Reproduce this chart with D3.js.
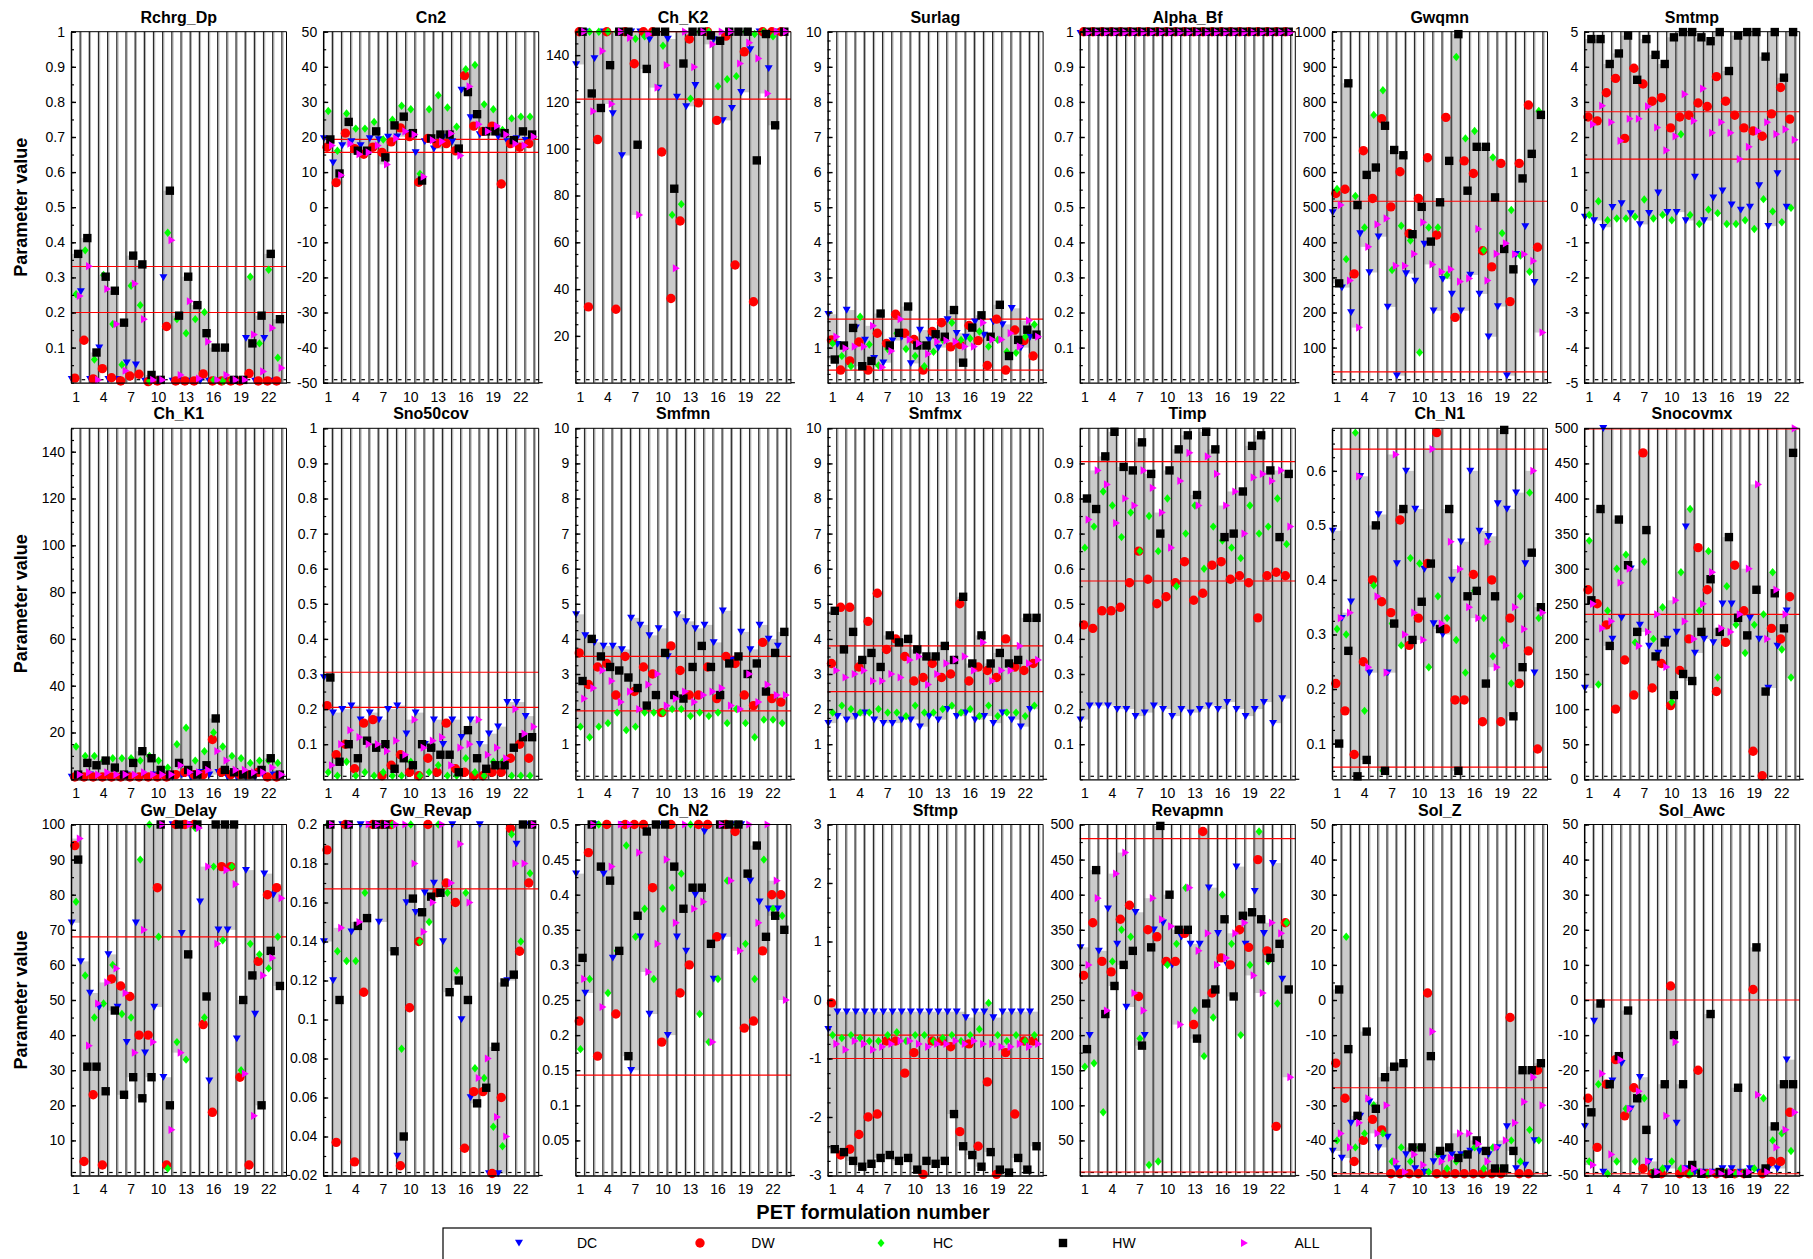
<!DOCTYPE html>
<html><head><meta charset="utf-8">
<script src="https://cdn.jsdelivr.net/npm/d3@7"></script>
<style>
body{margin:0;background:#fff}
text{font-family:"Liberation Sans",Arial,Helvetica,sans-serif;fill:#000}
</style>
</head><body>
<svg id="chart" width="1813" height="1259"></svg>
<script>
// ---------------- DATA ----------------
const series = ["DC","DW","HC","HW","ALL"];
const formulations = d3.range(1, 24);
const xTickLabels = [1,4,7,10,13,16,19,22];
const panelNames = ["Rchrg_Dp","Cn2","Ch_K2","Surlag","Alpha_Bf","Gwqmn","Smtmp",
  "Ch_K1","Sno50cov","Smfmn","Smfmx","Timp","Ch_N1","Snocovmx",
  "Gw_Delay","Gw_Revap","Ch_N2","Sftmp","Revapmn","Sol_Z","Sol_Awc"];

const Rchrg_Dp = {
  DC:[0.01,0.26,0.01,0.10,0.01,0.01,0.057,0.051,0.005,0.005,0.30,0.005,0.005,0.005,0.005,0.005,0.005,0.005,0.005,0.127,0.005,0.127,0.005],
  DW:[0.013,0.121,0.011,0.04,0.014,0.005,0.019,0.024,0.003,0.005,0.16,0.005,0.005,0.005,0.025,0.005,0.005,0.005,0.005,0.026,0.005,0.005,0.005],
  HC:[0.252,0.377,0.066,0.307,0.167,0.051,0.276,0.221,0.005,0.008,0.427,0.181,0.141,0.181,0.201,0.008,0.005,0.008,0.008,0.302,0.112,0.322,0.071],
  HW:[0.367,0.412,0.086,0.302,0.262,0.171,0.362,0.337,0.022,0.008,0.547,0.191,0.302,0.221,0.141,0.1,0.1,0.008,0.008,0.112,0.191,0.367,0.181],
  ALL:[0.247,0.332,0.008,0.267,0.167,0.034,0.282,0.181,0.008,0.008,0.406,0.022,0.232,0.012,0.117,0.008,0.022,0.008,0.008,0.137,0.032,0.156,0.042]};
const Cn2 = {
  DC:[19.6,12.7,17.6,18.7,17.6,19.6,19.3,20,20.1,21,15.6,18.7,16.7,20,18.7,33.4,25.6,20.7,22,20.1,18.7,19.6,19.1],
  DW:[17.1,7.0,21.1,16.7,15.1,17.1,15.6,18.6,22.6,20.1,7.1,19.6,18.1,18.1,16.1,37.5,23.1,21.6,23.1,6.6,18.1,17.1,18.1],
  HC:[27.4,16.1,26.7,22.4,22.4,24.3,19.3,24.9,28.9,27.9,9.5,27.9,31.9,28.4,22.9,39.3,40.5,29.3,27.9,22,25.3,25.8,25.8],
  HW:[19.3,9.6,24.3,16.1,16.1,21.6,14.2,23.3,25.8,21.1,7.6,19.6,20.7,20.7,16.7,32.8,26.5,21.6,21.6,21.1,19.1,21.6,20.7],
  ALL:[17.6,9.1,18.1,15.1,15.6,17.6,12.2,19.6,21.6,20.7,8.7,19.1,18.7,21,14.7,34.4,23.6,21.6,23.1,20.7,18.1,17.6,20.1]};
const Ch_K2 = {
  DC:[136,150,138.6,150,115.1,97.1,150,150,146.7,126,146.9,122.1,118.1,127.1,150,146.7,112.1,117.3,124.1,142.4,150,134.3,150],
  DW:[150,32.4,103.9,150,31.4,150,136.3,150,150,98.6,36,69.1,146.9,119.6,150,112.1,148.1,50.3,141.4,34.6,150,150,150],
  HC:[150,150,150,150,150,150,147,148,150,144,71.7,76.3,121.4,150,150,126.7,129.7,131,150,149,150,148,150],
  HW:[150,123.6,117.4,135.7,150,150,101.7,134.1,150,150,82.9,136.4,150,150,148.4,146.1,150,150,150,95,149,110,150],
  ALL:[150,116,141.7,119.1,150,147.4,71.7,149,126.1,135.7,48.9,150,134.9,150,144.6,150,150,136.4,145.3,138.6,123.6,150,150]};
const Surlag = {
  DC:[1.95,1.1,2.07,1.57,1.22,0.7,0.57,1.2,1.3,0.55,1.5,1.22,1.0,1.8,1.41,1.3,1.74,1.36,1.74,1.66,2.12,1.0,1.3],
  DW:[1.22,0.36,0.62,1.16,0.36,1.41,1.12,1.95,1.41,1.23,0.36,1.46,1.71,1.02,1.09,1.63,1.2,0.49,1.81,0.36,1.5,1.2,0.76],
  HC:[1.12,0.76,0.47,1.88,1.09,0.49,0.96,1.41,0.96,0.76,0.47,0.88,1.22,1.71,1.22,1.26,1.46,1.03,1.22,0.88,0.85,1.31,1.66],
  HW:[0.66,1.06,1.56,0.47,0.62,1.97,1.06,1.42,2.17,1.06,1.06,1.38,1.31,2.07,0.57,1.57,1.92,1.31,2.22,0.76,1.22,1.51,1.37],
  ALL:[1.31,0.98,1.03,1.03,1.62,0.44,0.9,1.81,1.23,1.12,0.82,1.17,1.2,1.17,1.03,1.03,1.71,1.23,1.23,1.41,1.03,1.77,1.31]};
const Alpha_Bf = {
  DC:[0.996,0.996,0.996,0.996,0.996,0.996,0.996,0.996,0.996,0.996,0.996,0.996,0.996,0.996,0.996,0.996,0.996,0.996,0.996,0.996,0.996,0.996,0.996],
  DW:[1,1,1,1,1,1,1,1,1,1,1,1,1,1,1,1,1,1,1,1,1,1,1],
  HC:[0.999,0.999,0.999,0.999,0.999,0.999,0.999,0.999,0.999,0.999,0.999,0.999,0.999,0.999,0.999,0.999,0.999,0.999,0.999,0.999,0.999,0.999,0.999],
  HW:[1,1,1,1,1,1,1,1,1,1,1,1,1,1,1,1,1,1,1,1,1,1,1],
  ALL:[0.998,0.998,0.998,0.998,0.998,0.998,0.998,0.998,0.998,0.998,0.998,0.998,0.998,0.998,0.998,0.998,0.998,0.998,0.998,0.998,0.998,0.998,0.998]};
const Gwqmn = {
  DC:[485,271,200,425,314,416,216,20,311,290,395,205,295,253,205,307,253,131,217,20,366,445,286],
  DW:[539,551,310,661,525,752,501,601,425,525,641,421,756,186,632,596,376,330,625,231,625,791,386],
  HC:[552,352,532,442,763,833,321,447,405,86,442,442,307,928,696,717,377,642,426,492,362,316,774],
  HW:[283,853,506,592,613,732,663,648,423,501,402,514,632,993,547,672,672,528,381,323,582,652,763],
  ALL:[506,291,157,387,451,468,333,333,367,457,337,316,323,288,297,438,291,367,397,366,366,347,143]};
const Smtmp = {
  DC:[-0.28,-0.38,-0.57,0.0,0.11,-0.18,-0.49,-0.17,0.41,-0.14,-0.14,-0.38,0.86,-0.38,0.27,0.47,0.07,-0.08,0.01,0.62,-0.54,0.96,0.01],
  DW:[2.57,2.46,3.26,3.67,1.96,3.96,3.51,3.02,3.12,2.26,2.57,2.62,2.97,2.87,3.72,3.02,2.62,2.26,2.17,2.02,2.66,3.41,2.51],
  HC:[-0.22,0.17,-0.37,-0.32,-0.32,-0.27,0.22,-0.32,-0.22,-0.37,2.08,-0.22,-0.48,-0.07,-0.17,-0.48,-0.48,-0.37,-0.62,0.23,-0.12,-0.43,-0.02],
  HW:[4.79,4.79,4.08,4.38,4.89,3.63,4.79,4.34,4.08,4.84,4.99,4.99,4.84,4.73,4.99,3.88,4.89,4.99,4.99,4.29,4.99,3.69,4.99],
  ALL:[2.36,2.89,2.42,1.89,2.52,2.52,2.87,2.27,1.62,2.02,3.22,2.46,3.38,2.12,2.42,2.12,1.37,1.72,2.17,2.42,2.08,2.22,1.92]};
const Ch_K1 = {
  DC:[1,1,2,1,1,1,2,1,1,2,1,1,2,1,3,2,3,1,1,1,1,1,2],
  DW:[1,1,1,1,1,1,1,1,1,1,1,2,3,2,2,17,3,2,2,2,3,1,1],
  HC:[14,10,10,8,9,9,9,8,10,8,5,15,22,8,12,20,14,10,9,7,8,8,7],
  HW:[2,7,6,8,5,2,7,12,9,4,2,7,4,2,6,26,4,3,2,2,4,9,2],
  ALL:[2,3,2,3,2,2,2,3,2,2,2,6,3,3,4,12,8,4,4,3,3,5,2]};
const Sno50cov = {
  DC:[0.29,0.19,0.20,0.21,0.17,0.19,0.17,0.20,0.21,0.13,0.19,0.10,0.17,0.10,0.17,0.12,0.17,0.10,0.13,0.15,0.22,0.22,0.18],
  DW:[0.21,0.07,0.10,0.03,0.16,0.17,0.01,0.04,0.07,0.02,0.01,0.06,0.02,0.16,0.03,0.02,0.01,0.01,0.02,0.02,0.06,0.10,0.06],
  HC:[0.02,0.01,0.05,0.01,0.02,0.01,0.02,0.01,0.01,0.05,0.01,0.02,0.04,0.01,0.01,0.06,0.02,0.01,0.05,0.05,0.01,0.01,0.01],
  HW:[0.29,0.05,0.10,0.06,0.11,0.09,0.10,0.03,0.06,0.04,0.10,0.09,0.07,0.07,0.02,0.14,0.06,0.03,0.04,0.04,0.09,0.12,0.12],
  ALL:[0.04,0.10,0.14,0.12,0.10,0.10,0.08,0.11,0.07,0.17,0.09,0.11,0.12,0.04,0.09,0.10,0.17,0.07,0.09,0.06,0.20,0.13,0.15]};
const Smfmn = {
  DC:[4.7,4.1,3.9,3.8,3.8,3.7,4.6,4.4,4.1,4.3,3.5,4.7,4.5,4.3,4.4,3.9,4.8,3.4,4.2,3.7,4.4,4.0,3.8],
  DW:[3.6,2.7,3.2,3.3,2.4,3.5,2.5,3.2,3.0,1.9,3.8,3.1,2.4,2.4,3.2,2.3,3.5,3.3,2.4,2.1,3.9,2.3,2.2],
  HC:[1.5,1.2,1.5,1.6,1.9,1.4,1.5,1.9,1.9,1.9,2.0,2.0,1.8,1.9,1.8,1.9,1.6,2.0,1.6,1.2,1.7,1.7,1.6],
  HW:[2.8,4.0,3.5,3.2,3.1,2.9,2.6,2.1,2.4,3.6,2.4,2.3,3.2,3.8,3.2,2.4,3.3,3.5,3.0,3.3,2.5,3.6,4.2],
  ALL:[2.3,2.6,3.1,2.8,2.2,2.5,2.0,2.7,3.0,2.1,2.3,2.5,2.2,2.4,2.5,2.6,2.1,2.0,3.0,2.2,2.7,2.4,2.4]};
const Smfmx = {
  DC:[1.6,1.8,1.7,1.8,1.9,1.7,1.6,1.6,1.7,1.7,1.5,1.8,1.7,2.0,1.8,1.9,1.7,1.8,1.6,1.9,1.7,1.5,2.0],
  DW:[3.3,4.9,4.9,3.2,4.5,5.3,3.7,4.0,3.5,2.8,2.9,3.3,2.9,3.0,5.0,2.8,3.2,3.1,2.9,4.0,3.2,3.1,3.3],
  HC:[1.9,2.1,2.0,1.9,1.9,2.0,1.9,1.9,1.8,2.1,1.9,1.9,2.0,2.1,1.9,2.0,1.8,2.1,1.8,1.9,1.9,1.8,2.1],
  HW:[4.8,3.7,4.2,3.4,3.6,3.2,4.1,3.9,4.0,3.7,3.5,3.5,3.8,3.4,5.2,3.3,4.1,3.3,3.6,3.3,3.4,4.6,4.6],
  ALL:[3.1,2.9,3.0,3.1,2.8,2.8,3.0,2.9,3.4,3.5,2.7,3.0,3.3,3.4,3.5,3.1,3.9,2.8,3.1,3.1,3.8,3.3,3.4]};
const Timp = {
  DC:[0.17,0.21,0.21,0.21,0.20,0.20,0.18,0.19,0.21,0.20,0.18,0.20,0.19,0.20,0.21,0.20,0.22,0.20,0.18,0.20,0.22,0.16,0.23],
  DW:[0.44,0.43,0.48,0.48,0.49,0.56,0.65,0.57,0.50,0.52,0.56,0.62,0.51,0.53,0.61,0.62,0.57,0.58,0.56,0.46,0.58,0.59,0.58],
  HC:[0.66,0.72,0.82,0.78,0.69,0.76,0.65,0.75,0.65,0.80,0.55,0.70,0.78,0.60,0.72,0.68,0.66,0.63,0.78,0.70,0.72,0.80,0.67],
  HW:[0.80,0.77,0.92,0.99,0.89,0.88,0.96,0.87,0.70,0.88,0.94,0.98,0.81,0.99,0.94,0.69,0.70,0.82,0.95,0.98,0.88,0.69,0.87],
  ALL:[0.74,0.88,0.84,0.73,0.80,0.78,0.88,0.83,0.76,0.66,0.85,0.93,0.78,0.92,0.87,0.78,0.82,0.70,0.86,0.87,0.85,0.88,0.72]};
const Ch_N1 = {
  DC:[0.49,0.33,0.36,0.59,0.23,0.52,0.23,0.43,0.60,0.53,0.42,0.32,0.30,0.40,0.47,0.60,0.49,0.48,0.54,0.53,0.56,0.43,0.23],
  DW:[0.21,0.16,0.08,0.25,0.40,0.36,0.34,0.51,0.28,0.33,0.43,0.67,0.31,0.18,0.18,0.41,0.14,0.40,0.14,0.33,0.21,0.27,0.09],
  HC:[0.31,0.30,0.67,0.16,0.39,0.05,0.32,0.28,0.44,0.43,0.24,0.37,0.33,0.29,0.23,0.38,0.33,0.26,0.29,0.21,0.37,0.56,0.33],
  HW:[0.10,0.27,0.04,0.07,0.50,0.05,0.32,0.53,0.29,0.36,0.43,0.31,0.53,0.05,0.37,0.38,0.21,0.37,0.675,0.15,0.24,0.45,0.35],
  ALL:[0.33,0.34,0.59,0.24,0.37,0.23,0.63,0.30,0.34,0.29,0.64,0.32,0.47,0.42,0.35,0.33,0.47,0.24,0.28,0.35,0.31,0.60,0.34]};
const Snocovmx = {
  DC:[130,250,500,200,230,300,220,190,180,200,210,360,180,200,195,250,250,235,230,200,130,190,240],
  DW:[270,250,220,100,170,120,465,130,165,105,155,200,330,270,125,195,305,240,40,5,215,200,260],
  HC:[340,135,240,300,320,195,310,200,245,110,295,385,240,325,145,275,220,180,220,235,295,185,145],
  HW:[255,385,190,370,305,210,355,175,195,120,150,140,210,285,210,345,230,205,270,125,265,215,465],
  ALL:[250,215,225,280,300,190,210,235,160,255,225,200,250,295,215,210,235,300,420,200,270,235,500]};
const Gw_Delay = {
  DC:[72,61,52,48,63,48,38,72,35,48,28,100,69,100,78,27,70,70,39,87,46,86,80],
  DW:[94,4,23,3,56,54,51,40,40,82,3,100,100,100,43,18,88,88,28,3,61,80,82],
  HC:[78,57,45,49,60,46,45,90,100,68,2,38,33,99,45,88,67,88,30,66,63,59,68],
  HW:[90,31,31,24,47,23,28,22,28,100,20,100,63,100,51,100,100,100,50,57,20,64,54],
  ALL:[96,37,49,55,59,52,35,70,38,100,13,35,100,99,88,66,87,83,29,17,57,62,79]};
const Gw_Revap = {
  DC:[0.14,0.12,0.20,0.145,0.20,0.20,0.15,0.20,0.03,0.16,0.155,0.165,0.17,0.14,0.20,0.10,0.06,0.20,0.021,0.021,0.12,0.19,0.20],
  DW:[0.187,0.037,0.20,0.027,0.114,0.20,0.20,0.20,0.025,0.106,0.14,0.20,0.165,0.17,0.16,0.034,0.063,0.063,0.021,0.06,0.198,0.135,0.17],
  HC:[0.20,0.135,0.13,0.13,0.165,0.20,0.20,0.20,0.085,0.20,0.14,0.15,0.20,0.165,0.125,0.165,0.075,0.07,0.045,0.035,0.195,0.14,0.175],
  HW:[0.20,0.11,0.20,0.148,0.152,0.20,0.20,0.135,0.04,0.162,0.155,0.163,0.165,0.114,0.12,0.11,0.057,0.065,0.086,0.119,0.123,0.20,0.20],
  ALL:[0.20,0.147,0.20,0.15,0.20,0.20,0.20,0.20,0.20,0.18,0.145,0.16,0.20,0.17,0.19,0.16,0.07,0.08,0.05,0.04,0.18,0.18,0.20]};
const Ch_N2 = {
  DC:[0.43,0.26,0.50,0.43,0.31,0.50,0.15,0.34,0.23,0.50,0.20,0.34,0.32,0.40,0.49,0.28,0.34,0.50,0.50,0.42,0.39,0.38,0.38],
  DW:[0.22,0.46,0.17,0.50,0.23,0.50,0.50,0.50,0.41,0.19,0.50,0.26,0.30,0.50,0.50,0.34,0.50,0.49,0.21,0.22,0.32,0.40,0.40],
  HC:[0.18,0.28,0.50,0.26,0.32,0.47,0.34,0.38,0.28,0.38,0.41,0.43,0.50,0.23,0.19,0.28,0.42,0.50,0.33,0.28,0.45,0.38,0.37],
  HW:[0.31,0.50,0.44,0.42,0.32,0.17,0.37,0.49,0.50,0.50,0.44,0.38,0.41,0.41,0.33,0.50,0.50,0.50,0.43,0.47,0.34,0.37,0.35],
  ALL:[0.28,0.50,0.24,0.44,0.50,0.50,0.46,0.29,0.33,0.45,0.36,0.50,0.38,0.39,0.19,0.50,0.42,0.32,0.50,0.36,0.50,0.42,0.25]};
const Sftmp = {
  DC:[-0.5,-0.2,-0.2,-0.2,-0.2,-0.2,-0.2,-0.2,-0.2,-0.2,-0.2,-0.2,-0.2,-0.2,-0.2,-0.3,-0.2,-0.2,-0.3,-0.2,-0.2,-0.2,-0.2],
  DW:[-0.05,-2.65,-2.55,-2.3,-2.0,-1.95,-0.7,-0.7,-1.25,-0.9,-2.98,-0.7,-0.7,-0.8,-2.25,-0.75,-2.5,-1.4,-2.98,-0.9,-1.95,-0.7,-0.7],
  HC:[-0.6,-0.65,-0.6,-0.65,-0.7,-0.7,-0.6,-0.55,-0.7,-0.6,-0.6,-0.7,-0.65,-0.6,-0.7,-0.6,-0.5,-0.05,-0.6,-0.7,-0.6,-0.7,-0.6],
  HW:[-2.55,-2.6,-2.75,-2.85,-2.8,-2.7,-2.65,-2.75,-2.7,-2.9,-2.75,-2.8,-2.75,-1.95,-2.5,-2.65,-2.85,-2.6,-2.9,-2.95,-2.7,-2.9,-2.5],
  ALL:[-0.75,-0.85,-0.7,-0.75,-0.85,-0.8,-0.75,-0.7,-0.7,-0.75,-0.8,-0.75,-0.75,-0.7,-0.75,-0.7,-0.75,-0.75,-0.8,-0.8,-0.75,-0.8,-0.75]};
const Revapmn = {
  DC:[325,200,320,380,330,240,375,200,350,360,300,340,330,330,410,345,300,440,330,405,345,445,280],
  DW:[285,360,305,290,365,385,255,350,340,305,305,345,215,490,260,310,300,350,325,450,320,70,360],
  HC:[155,160,90,305,350,340,195,15,20,300,330,410,235,170,225,400,330,200,300,490,305,245,360],
  HW:[180,435,230,270,300,320,185,325,498,400,350,350,195,245,265,365,255,370,375,365,310,330,265],
  ALL:[300,395,235,430,460,260,235,395,365,355,215,410,320,345,300,310,345,360,285,260,360,345,140]};
const Sol_Z = {
  DC:[-43,-45,-35,-33,-29,-42,-39,-48,-44,-48,-49,-46,-45,-44,-44,-43,-43,-44,-42,-36,-48,-47,-40],
  DW:[-18,-28,-46,-40,-34,-37,-49.5,-49.5,-49.5,-49.5,2,-49.5,-49.5,-49.5,-49.5,-49.5,-49.5,-49.5,-49.5,-5,-49.5,-49.5,-20],
  HC:[-40,18,-42,-38,-30,-38,-46,-42,-46,-42,-49,-44,-48,-46,-44,-42,-48,-42,-48,-40,-46,-37,-40],
  HW:[3,-14,-33,-9,-31,-22,-19,-18,-42,-42,-16,-43,-42,-45,-44,-40,-43,-48,-48,-43,-20,-20,-18],
  ALL:[-38,-42,-35,-28,-38,-30,-46,-49,-44,-47,-9,-46,-45,-38,-38,-41,-46,-42,-40,-35,-29,-22,-30]};
const Sol_Awc = {
  DC:[-36,-6,-49,-23,-18,-31,-22,-46,-49,-48,-35,-48,-49,-49,-49,-48,-48,-49,-48,-49,-48,-48,-17],
  DW:[-28,-42,-24,-17,-33,-25,-48,-49.5,-49.5,4,-49.5,-49.5,-20,-49.5,-49.5,-49.5,-49.5,-49.5,3,-49.5,-46,-46,-32],
  HC:[-46,-24,-49.5,-46,-31,-46,-28,-49,-48,-46,-48,-49.5,-49,-49.5,-49,-49,-49.5,-49,-48,-28,-40,-38,-43],
  HW:[-32,-1,-24,-16,-3,-28,-37,-49.5,-24,-10,-24,-47,-49.5,-4,-49,-49.5,-25,-49.5,15,-48,-36,-24,-24],
  ALL:[-47,-21,-44,-17,-31,-26,-46,-49,-33,-12,-48,-48,-49,-49,-49.5,-49,-49.5,-49,-27,-49,-42,-37,-32]};

const panelData = {Rchrg_Dp,Cn2,Ch_K2,Surlag,Alpha_Bf,Gwqmn,Smtmp,Ch_K1,Sno50cov,Smfmn,Smfmx,Timp,Ch_N1,Snocovmx,Gw_Delay,Gw_Revap,Ch_N2,Sftmp,Revapmn,Sol_Z,Sol_Awc};

// red reference lines
const refLines = {
  Rchrg_Dp:[0.331,0.2], Cn2:[19.3,15.6], Ch_K2:[150,121.2], Surlag:[1.81,0.36], Alpha_Bf:[1],
  Gwqmn:[517,31], Smtmp:[2.72,1.37], Ch_K1:[], Sno50cov:[0.305,0.205], Smfmn:[3.5,1.95],
  Smfmx:[3.8,2.5], Timp:[0.905,0.565], Ch_N1:[0.64,0.057], Snocovmx:[499,235],
  Gw_Delay:[100,68], Gw_Revap:[0.2,0.167], Ch_N2:[0.5,0.143], Sftmp:[-0.6,-1.0],
  Revapmn:[480,5], Sol_Z:[-25,-49.5], Sol_Awc:[0,-49.5]};

// y domains
const yDomains = {
  Rchrg_Dp:[0,1], Cn2:[-50,50], Ch_K2:[0,150], Surlag:[0,10], Alpha_Bf:[0,1], Gwqmn:[0,1000], Smtmp:[-5,5],
  Ch_K1:[0,150], Sno50cov:[0,1], Smfmn:[0,10], Smfmx:[0,10], Timp:[0,1], Ch_N1:[0.0345,0.678], Snocovmx:[0,500],
  Gw_Delay:[0,100], Gw_Revap:[0.02,0.2], Ch_N2:[0,0.5], Sftmp:[-3,3], Revapmn:[0,500], Sol_Z:[-50,50], Sol_Awc:[-50,50]};

// labelled tick values [start, stop, step] and minor tick step
const yTickSpec = {
  Rchrg_Dp:[0.1,1,0.1], Cn2:[-50,50,10], Ch_K2:[20,140,20], Surlag:[1,10,1], Alpha_Bf:[0.1,1,0.1], Gwqmn:[100,1000,100], Smtmp:[-5,5,1],
  Ch_K1:[20,140,20], Sno50cov:[0.1,1,0.1], Smfmn:[1,10,1], Smfmx:[1,10,1], Timp:[0.1,0.9,0.1], Ch_N1:[0.1,0.6,0.1], Snocovmx:[0,500,50],
  Gw_Delay:[10,100,10], Gw_Revap:[0.02,0.2,0.02], Ch_N2:[0.05,0.5,0.05], Sftmp:[-3,3,1], Revapmn:[50,500,50], Sol_Z:[-50,50,10], Sol_Awc:[-50,50,10]};
const yMinorStep = {
  Rchrg_Dp:0.05, Cn2:5, Ch_K2:5, Surlag:0.25, Alpha_Bf:0.05, Gwqmn:25, Smtmp:0.5,
  Ch_K1:5, Sno50cov:0.05, Smfmn:0.25, Smfmx:0.25, Timp:0.05, Ch_N1:0.025, Snocovmx:25,
  Gw_Delay:5, Gw_Revap:0.01, Ch_N2:0.025, Sftmp:0.25, Revapmn:25, Sol_Z:5, Sol_Awc:5};

const seriesColors = {DC:"#0000ff", DW:"#ff0000", HC:"#00ff00", HW:"#000000", ALL:"#ff00ff"};
const seriesOffsets = {DC:-0.42, DW:-0.08, HC:0.05, HW:0.28, ALL:0.46};

// ---------------- LAYOUT ----------------
const svg = d3.select("#chart");
const colLeft0 = 71, colStep = 252.2, panelW = 215.5, panelH = 351;
const rowTops = [31.7, 428.3, 824.5];

const symbolPaths = {
  DC: "M-4,-3.2 L4,-3.2 L0,3.6 Z",
  DW: "M-4.7,0 A4.7,4.7 0 1,0 4.7,0 A4.7,4.7 0 1,0 -4.7,0 Z",
  HC: "M0,-4.2 L3.5,0 L0,4.2 L-3.5,0 Z",
  HW: "M-4.2,-4.2 L4.2,-4.2 L4.2,4.2 L-4.2,4.2 Z",
  ALL: "M-3,-4.1 L3.9,0 L-3,4.1 Z"
};

const fmt = v => String(+v.toFixed(6));

panelNames.forEach((name, idx) => {
  const row = Math.floor(idx / 7), col = idx % 7;
  const left = colLeft0 + col * colStep, top = rowTops[row];
  const x = d3.scaleLinear().domain([0.5, 24]).range([left, left + panelW]);
  const y = d3.scaleLinear().domain(yDomains[name]).range([top + panelH, top]);
  const data = panelData[name];
  const g = svg.append("g");

  // gray range bars
  const ranges = formulations.map((f, i) => {
    const vals = series.map(s => data[s][i]);
    return {f, lo: d3.min(vals), hi: d3.max(vals)};
  });
  g.selectAll("rect.rng").data(ranges).join("rect")
    .attr("x", d => x(d.f - 0.5)).attr("width", d => x(d.f + 0.5) - x(d.f - 0.5))
    .attr("y", d => y(d.hi)).attr("height", d => Math.max(0.5, y(d.lo) - y(d.hi)))
    .attr("fill", "#cbcbcb");

  // vertical separators
  g.selectAll("line.sep").data(formulations).join("line")
    .attr("x1", d => x(d + 0.5)).attr("x2", d => x(d + 0.5))
    .attr("y1", top).attr("y2", top + panelH)
    .attr("stroke", "#2a2a2a").attr("stroke-width", 1.3);
  g.selectAll("line.sep2").data(formulations).join("line")
    .attr("x1", d => x(d + 0.5) + 1.2).attr("x2", d => x(d + 0.5) + 1.2)
    .attr("y1", top).attr("y2", top + panelH)
    .attr("stroke", "#9a9a9a").attr("stroke-width", 0.8);

  // bottom dashes
  g.selectAll("line.dash").data([0].concat(formulations)).join("line")
    .attr("x1", d => x(d + 0.5) + 1.5).attr("x2", d => x(d + 0.5) + 5)
    .attr("y1", top + panelH - 3).attr("y2", top + panelH - 3)
    .attr("stroke", "#000").attr("stroke-width", 1.2);

  // red reference lines
  g.selectAll("line.ref").data(refLines[name]).join("line")
    .attr("x1", left).attr("x2", left + panelW)
    .attr("y1", d => y(d)).attr("y2", d => y(d))
    .attr("stroke", "#ff0000").attr("stroke-width", 1.2);

  // markers
  series.forEach(s => {
    g.selectAll("path.m" + s).data(formulations.map((f, i) => ({f, v: data[s][i]}))).join("path")
      .attr("d", symbolPaths[s])
      .attr("transform", d => `translate(${x(d.f + seriesOffsets[s])},${y(d.v)})`)
      .attr("fill", seriesColors[s]);
  });

  // frame: top and right
  g.append("line").attr("x1", left).attr("x2", left + panelW).attr("y1", top).attr("y2", top)
    .attr("stroke", "#000").attr("stroke-width", 1);
  g.append("line").attr("x1", left + panelW).attr("x2", left + panelW).attr("y1", top).attr("y2", top + panelH)
    .attr("stroke", "#000").attr("stroke-width", 1);

  // y axis (ticks pointing inward)
  const sp = yTickSpec[name];
  const majors = d3.range(sp[0], sp[1] + sp[2] / 2, sp[2]).map(v => +v.toFixed(6));
  const dom = yDomains[name];
  const mstep = yMinorStep[name];
  const minors = d3.range(Math.ceil(dom[0] / mstep - 1e-6) * mstep, dom[1] + mstep / 2, mstep).map(v => +v.toFixed(6));
  const yMinor = g.append("g").attr("transform", `translate(${left},0)`)
    .call(d3.axisLeft(y).tickValues(minors).tickSize(-3).tickSizeOuter(0).tickFormat(""));
  yMinor.select(".domain").remove();
  yMinor.selectAll("line").attr("stroke-width", 1.2);
  const yAx = g.append("g").attr("transform", `translate(${left},0)`)
    .call(d3.axisLeft(y).tickValues(majors).tickSize(-5).tickSizeOuter(0).tickPadding(6).tickFormat(fmt));
  yAx.select(".domain").attr("stroke-width", 1.5);
  yAx.selectAll(".tick line").attr("stroke-width", 1.4);
  yAx.selectAll("text").style("font-size", "14px").style("font-family", "'Liberation Sans',Arial,sans-serif");

  // x axis
  const xAx = g.append("g").attr("transform", `translate(0,${top + panelH})`)
    .call(d3.axisBottom(x).tickValues(xTickLabels).tickSize(0).tickSizeOuter(0).tickPadding(9).tickFormat(d3.format("d")));
  xAx.select(".domain").attr("stroke-width", 1.3);
  xAx.selectAll("text").style("font-size", "14px").style("font-family", "'Liberation Sans',Arial,sans-serif");
  g.append("line").attr("x1", left + panelW).attr("x2", left + panelW + 4)
    .attr("y1", top + panelH).attr("y2", top + panelH).attr("stroke", "#000").attr("stroke-width", 1.2);

  // title
  g.append("text").attr("x", left + panelW / 2).attr("y", top - 9)
    .attr("text-anchor", "middle").style("font-size", "16px").style("font-weight", "bold").text(name);
});

// row y-labels
rowTops.forEach(t => {
  svg.append("text").attr("transform", `translate(27,${t + panelH / 2}) rotate(-90)`)
    .attr("text-anchor", "middle").style("font-size", "18px").style("font-weight", "bold")
    .text("Parameter value");
});

// x label
svg.append("text").attr("x", 873).attr("y", 1219).attr("text-anchor", "middle")
  .style("font-size", "20px").style("font-weight", "bold").text("PET formulation number");

// legend
const legend = svg.append("g");
legend.append("rect").attr("x", 443).attr("y", 1228).attr("width", 928).attr("height", 40)
  .attr("fill", "#fff").attr("stroke", "#000").attr("stroke-width", 1.2);
const legendPos = {DC:[519,587], DW:[700,763], HC:[881,943], HW:[1063,1124], ALL:[1244,1307]};
series.forEach(s => {
  legend.append("path").attr("d", symbolPaths[s])
    .attr("transform", `translate(${legendPos[s][0]},1243)`).attr("fill", seriesColors[s]);
  legend.append("text").attr("x", legendPos[s][1]).attr("y", 1248).attr("text-anchor", "middle")
    .style("font-size", "14px").text(s);
});
</script>
</body></html>
